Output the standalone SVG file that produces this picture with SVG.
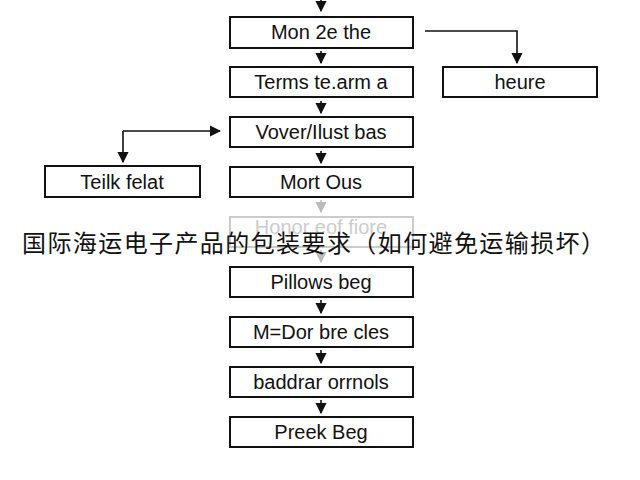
<svg xmlns="http://www.w3.org/2000/svg" width="640" height="480" viewBox="0 0 640 480">
<style>
.b{fill:#fff;stroke:#111;stroke-width:2}
.t{font-family:"Liberation Sans",Arial,sans-serif;font-size:20px;fill:#111;text-anchor:middle}
.c{stroke:#111;stroke-width:1.6;fill:none}
</style>
<defs><marker id="a" viewBox="0 0 10 10" refX="9" refY="5" markerWidth="7" markerHeight="7" orient="auto"><path d="M0,0L10,5L0,10z" fill="#111"/></marker>
<marker id="g" viewBox="0 0 10 10" refX="9" refY="5" markerWidth="7" markerHeight="7" orient="auto"><path d="M0,0L10,5L0,10z" fill="#bbb"/></marker></defs>
<rect width="640" height="480" fill="#fff"/>
<g id="connectors">
<path class="c" d="M321,0V11" marker-end="url(#a)"/>
<path class="c" d="M321,51V63" marker-end="url(#a)"/>
<path class="c" d="M321,101V113" marker-end="url(#a)"/>
<path class="c" d="M321,151V163" marker-end="url(#a)"/>
<path class="c" d="M425,31H517V63" marker-end="url(#a)"/>
<path class="c" d="M123,131H220" marker-end="url(#a)"/>
<path class="c" d="M123,131V162" marker-end="url(#a)"/>
<path d="M321,200V212" stroke="#bbb" stroke-width="1.6" marker-end="url(#g)"/>
<path d="M321,250V262" stroke="#bbb" stroke-width="1.6" marker-end="url(#g)"/>
<path class="c" d="M321,300V313" marker-end="url(#a)"/>
<path class="c" d="M321,350V363" marker-end="url(#a)"/>
<path class="c" d="M321,400V413" marker-end="url(#a)"/>
</g>
<g id="n1"><rect class="b" x="230" y="17" width="183" height="31"/><text class="t" x="321" y="39">Mon 2e the</text></g>
<g id="n2"><rect class="b" x="230" y="67" width="183" height="30"/><text class="t" x="321" y="89">Terms te.arm a</text></g>
<g id="n3"><rect class="b" x="443" y="67" width="154" height="30"/><text class="t" x="520" y="89">heure</text></g>
<g id="n4"><rect class="b" x="230" y="117" width="183" height="30"/><text class="t" x="321" y="139">Vover/Ilust bas</text></g>
<g id="n5"><rect class="b" x="45" y="166" width="155" height="31"/><text class="t" x="122" y="189">Teilk felat</text></g>
<g id="n6"><rect class="b" x="230" y="167" width="183" height="30"/><text class="t" x="321" y="189">Mort Ous</text></g>
<g id="n7"><rect x="230" y="217" width="183" height="30" fill="#fff" stroke="#ccc" stroke-width="2"/><text class="t" x="321" y="234" style="fill:#ccc">Honor eof fiore</text></g>
<g id="n8"><rect class="b" x="230" y="267" width="183" height="30"/><text class="t" x="321" y="289">Pillows beg</text></g>
<g id="n9"><rect class="b" x="230" y="317" width="183" height="30"/><text class="t" x="321" y="339">M=Dor bre cles</text></g>
<g id="n10"><rect class="b" x="230" y="367" width="183" height="30"/><text class="t" x="321" y="389">baddrar orrnols</text></g>
<g id="n11"><rect class="b" x="230" y="417" width="183" height="30"/><text class="t" x="321" y="439">Preek Beg</text></g>
<text x="22" y="252" font-family="'Noto Sans CJK SC',sans-serif" font-size="24" fill="#111" textLength="583">国际海运电子产品的包装要求（如何避免运输损坏）</text>
</svg>
